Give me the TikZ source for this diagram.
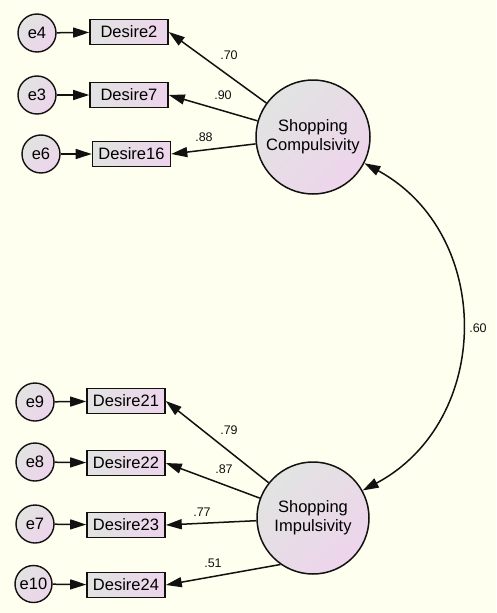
\documentclass[tikz,border=0pt]{standalone}
\usepackage{fontspec}
\setmainfont{Liberation Sans}
\usetikzlibrary{arrows.meta}
\definecolor{bg}{HTML}{FFFFEF}
\definecolor{gA}{HTML}{E1E4E1}
\definecolor{pA}{HTML}{EED4EC}
\definecolor{ink}{HTML}{111111}
\tikzset{
  obs/.style={draw=ink, line width=1.6pt, minimum width=78pt, minimum height=25pt, inner sep=0pt,
    left color=gA, right color=pA, font=\fontsize{16.5}{17}\selectfont},
  err/.style={circle, draw=ink, line width=1.4pt, minimum size=38pt, inner sep=0pt,
    top color=gA, bottom color=pA, shading angle=45, font=\fontsize{16.5}{17}\selectfont},
  lat/.style={circle, draw=ink, line width=1.5pt, minimum size=114pt, inner sep=0pt, align=center,
    top color=gA, bottom color=pA, shading angle=45, font=\fontsize{16.5}{19}\selectfont},
  conn/.style={line width=1.5pt, draw=ink, -{Triangle[length=16pt,width=10pt]}},
  wt/.style={font=\fontsize{12.5}{12.5}\selectfont, text=ink, inner sep=0pt}
}
\begin{document}
\begin{tikzpicture}[x=1pt,y=-1pt]
\fill[bg] (0,0) rectangle (496,613);
\useasboundingbox (0,0) rectangle (496,613);
% latent
\node[lat] (sc) at (313,137) {Shopping\\Compulsivity};
\node[lat, minimum size=112pt] (si) at (313,518) {Shopping\\Impulsivity};
% observed top
\node[obs] (d2) at (129,32) {Desire2};
\node[obs] (d7) at (129,95) {Desire7};
\node[obs] (d16) at (131.5,154) {Desire16};
\node[err] (e4) at (37,33) {e4};
\node[err] (e3) at (37,95) {e3};
\node[err] (e6) at (41,154) {e6};
% observed bottom
\node[obs] (d21) at (126,401) {Desire21};
\node[obs] (d22) at (126,463) {Desire22};
\node[obs] (d23) at (126,525) {Desire23};
\node[obs] (d24) at (126,585) {Desire24};
\node[err] (e9) at (35,402) {e9};
\node[err] (e8) at (35,462) {e8};
\node[err] (e7) at (35,524) {e7};
\node[err, minimum size=37pt] (e10) at (33.5,584) {e10};
% error arrows
\draw[conn] (e4) -- (d2);
\draw[conn] (e3) -- (d7);
\draw[conn] (e6) -- (d16);
\draw[conn] (e9) -- (d21);
\draw[conn] (e8) -- (d22);
\draw[conn] (e7) -- (d23);
\draw[conn] (e10) -- (d24);
% loadings
\draw[conn] (sc) -- (d2.east);
\draw[conn] (sc) -- (d7.east);
\draw[conn] (sc) -- (d16.east);
\draw[conn] (si) -- (d21.east);
\draw[conn] (si) -- (d22.east);
\draw[conn] (si) -- (d23.east);
\draw[conn] (si.235) -- (d24.east);
% covariance
\draw[line width=1.5pt, draw=ink, {Triangle[length=16pt,width=10pt]}-{Triangle[length=16pt,width=10pt]}]
  (sc.-27) .. controls (494,234) and (493,421) .. (si.29);
% weights
\node[wt] (w70) at (229,55) {.70};
\node[wt] (w90) at (223,95) {.90};
\node[wt] (w88) at (204,137) {.88};
\node[wt] (w79) at (229,430) {.79};
\node[wt] (w87) at (224,469) {.87};
\node[wt] (w77) at (202,512) {.77};
\node[wt] (w51) at (213,563) {.51};
\node[wt] (w60) at (478,328) {.60};
\end{tikzpicture}
\end{document}
